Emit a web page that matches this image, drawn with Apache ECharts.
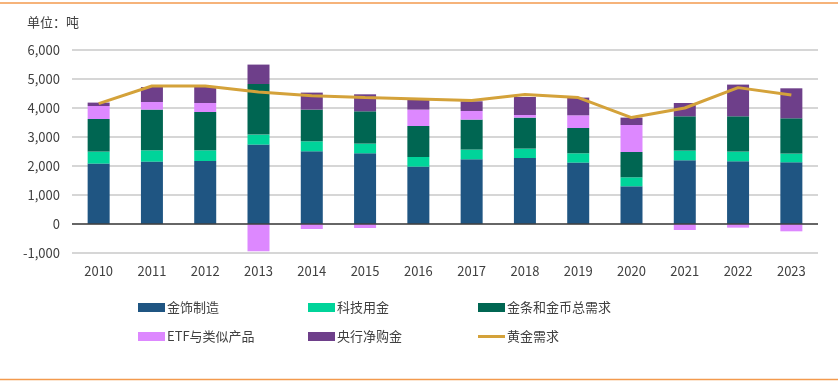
<!DOCTYPE html>
<html><head><meta charset="utf-8">
<script src="https://cdn.jsdelivr.net/npm/echarts@6/dist/echarts.min.js"></script>
<style>html,body{margin:0;padding:0;background:#fff}#c{width:838px;height:383px}</style>
</head><body><div id="c"></div>
<script>
const years = ['2010','2011','2012','2013','2014','2015','2016','2017','2018','2019','2020','2021','2022','2023'];
const jewelry = [2083,2151,2172,2738,2507,2438,1979,2231,2276,2117,1300,2197,2162,2128];
const tech = [414,390,369,345,345,334,331,335,324,321,310,334,335,300];
const barCoin = [1124,1404,1321,1745,1093,1114,1069,1034,1069,872,873,1183,1217,1217];
const etf = [448,262,310,-941,-172,-138,566,297,90,438,931,-207,-126,-252];
const centralBank = [117,517,552,669,586,586,345,334,620,611,255,458,1093,1034];
const demand = [4151,4759,4759,4552,4420,4359,4310,4255,4462,4359,3669,4000,4703,4448];
const yTicks = {min:-1000,max:6000,interval:1000};
const names = ['金饰制造','科技用金','金条和金币总需求','ETF与类似产品','央行净购金','黄金需求'];
const colors = ['#1f5582','#00d49a','#006652','#dd88ff','#6e3f8a','#d4a23a'];

const chart = echarts.init(document.getElementById('c'));
const font = '"Noto Sans CJK SC", "Noto Sans", sans-serif';
const barData = [jewelry, tech, barCoin, etf, centralBank];
const series = barData.map((d,i)=>({
  name:names[i], type:'bar', stack:'total', data:d, barWidth:22,
  itemStyle:{color:colors[i]}, emphasis:{disabled:true}
}));
series.push({name:names[5], type:'line', data:demand, symbol:'none',
  lineStyle:{color:colors[5], width:3}, itemStyle:{color:colors[5]}, z:5});

const legendPos = [[133,296],[303,296],[473,296],[133,325],[303,325],[473,325]];
const legends = names.map((n,i)=>({
  data:[n], left:legendPos[i][0], top:legendPos[i][1],
  itemWidth:27, itemHeight: i===5 ? 3 : 9, icon:'rect', itemGap:2,
  textStyle:{color:'#404040', fontSize:13, fontFamily:font, padding:[0,0,0,-3]},
  selectedMode:false
}));

chart.setOption({
  animation:false,
  textStyle:{fontFamily:font},
  grid:{left:72, right:20, top:50, bottom:130, containLabel:false},
  legend: legends,
  graphic:[
    {type:'line', shape:{x1:0,y1:3,x2:838,y2:3}, style:{stroke:'#f39a4e', lineWidth:1.5}},
    {type:'line', shape:{x1:0,y1:379.5,x2:838,y2:379.5}, style:{stroke:'#f39a4e', lineWidth:1.5}},
    {type:'text', left:27, top:16, style:{text:'单位：吨', fill:'#404040', font:'13px '+font}}
  ],
  xAxis:{type:'category', data:years,
    axisLine:{show:false}, axisTick:{show:false},
    axisLabel:{color:'#404040', fontSize:13, fontFamily:font, margin:12}},
  yAxis:{type:'value', min:yTicks.min, max:yTicks.max, interval:yTicks.interval,
    axisLine:{show:false}, axisTick:{show:false},
    axisLabel:{color:'#404040', fontSize:13, fontFamily:font, margin:12,
      formatter:v=>v.toLocaleString('en-US')},
    splitLine:{lineStyle:{color:'#c8c8c8', width:1.5}}},
  series: series.concat([{type:'line', data:[], markLine:{silent:true, symbol:'none', label:{show:false},
    lineStyle:{color:'#404040', width:1.5, type:'solid'}, data:[{yAxis:0}]}}])
});
</script></body></html>
